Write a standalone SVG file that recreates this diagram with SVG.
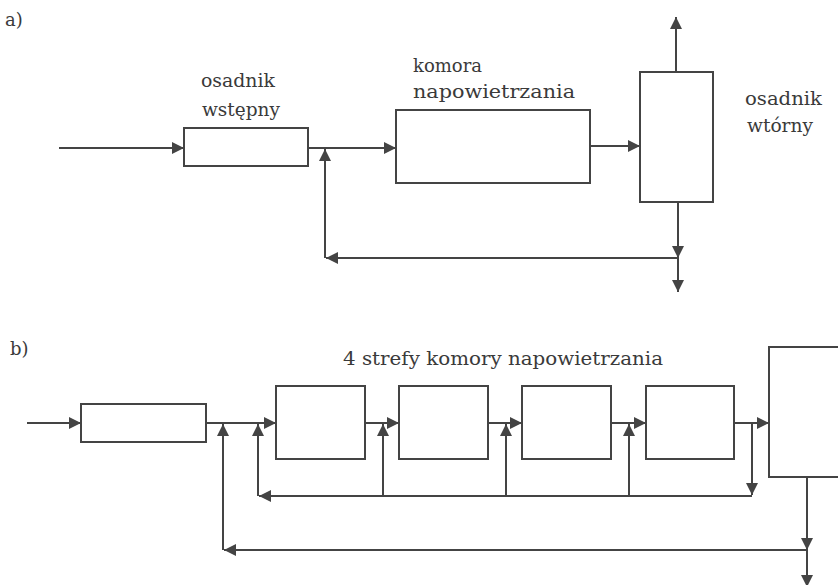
<svg xmlns="http://www.w3.org/2000/svg" width="838" height="585" viewBox="0 0 838 585">
<defs>
<style>
.box{fill:none;stroke:#444;stroke-width:2}
.ln{fill:none;stroke:#444;stroke-width:2;marker-end:url(#ah)}
.t{font-family:"DejaVu Serif","Liberation Serif",serif;fill:#3a3a3a;font-size:18px}
</style>
<marker id="ah" viewBox="0 0 12 12" refX="12" refY="6" markerWidth="12" markerHeight="12" markerUnits="userSpaceOnUse" orient="auto">
<path d="M0,0 L12,6 L0,12 Z" fill="#444"/>
</marker>
</defs>
<rect width="838" height="585" fill="#fff"/>
<text class="t" x="5" y="26">a)</text>
<text class="t" x="10" y="355">b)</text>

<g id="a-osadnik-wstepny">
<rect class="box" x="184" y="128" width="124" height="38"/>
<text class="t" x="201" y="87" textLength="74" lengthAdjust="spacingAndGlyphs">osadnik</text>
<text class="t" x="202" y="116" textLength="78" lengthAdjust="spacingAndGlyphs">wstępny</text>
</g>
<g id="a-komora">
<rect class="box" x="396" y="110" width="194" height="73"/>
<text class="t" x="413" y="72" textLength="69" lengthAdjust="spacingAndGlyphs">komora</text>
<text class="t" x="413" y="98" textLength="162" lengthAdjust="spacingAndGlyphs">napowietrzania</text>
</g>
<g id="a-osadnik-wtorny">
<rect class="box" x="640" y="72" width="73" height="130"/>
<text class="t" x="745" y="105" textLength="77" lengthAdjust="spacingAndGlyphs">osadnik</text>
<text class="t" x="747" y="132" textLength="66" lengthAdjust="spacingAndGlyphs">wtórny</text>
</g>

<g id="b-osadnik-wstepny"><rect class="box" x="81" y="404" width="125" height="38"/></g>
<g id="b-strefa1"><rect class="box" x="276" y="386" width="89" height="73"/></g>
<g id="b-strefa2"><rect class="box" x="399" y="386" width="89" height="73"/></g>
<g id="b-strefa3"><rect class="box" x="522" y="386" width="89" height="73"/></g>
<g id="b-strefa4"><rect class="box" x="646" y="386" width="88" height="73"/></g>
<g id="b-osadnik-wtorny"><rect class="box" x="769" y="347" width="90" height="130"/></g>
<text class="t" x="343" y="365" textLength="320" lengthAdjust="spacingAndGlyphs">4 strefy komory napowietrzania</text>

<g id="connectors">
<path class="ln" d="M59,148 H184"/>
<path class="ln" d="M308,148 H396"/>
<path class="ln" d="M325,258 V149"/>
<path class="ln" d="M678,258 H326"/>
<path class="ln" d="M590,146 H640"/>
<path class="ln" d="M676,72 V17"/>
<path class="ln" d="M678,202 V258"/>
<path class="ln" d="M678,258 V292"/>

<path class="ln" d="M27,423 H81"/>
<path class="ln" d="M206,423 H276"/>
<path class="ln" d="M223,550 V424"/>
<path class="ln" d="M258,496 V424"/>
<path class="ln" d="M365,423 H399"/>
<path class="ln" d="M383,496 V424"/>
<path class="ln" d="M488,423 H522"/>
<path class="ln" d="M506,496 V424"/>
<path class="ln" d="M611,423 H646"/>
<path class="ln" d="M629,496 V424"/>
<path class="ln" d="M734,423 H769"/>
<path class="ln" d="M752,423 V495"/>
<path class="ln" d="M752,496 H259"/>
<path class="ln" d="M807,477 V550"/>
<path class="ln" d="M807,550 V587"/>
<path class="ln" d="M807,550 H224"/>
</g>
</svg>
